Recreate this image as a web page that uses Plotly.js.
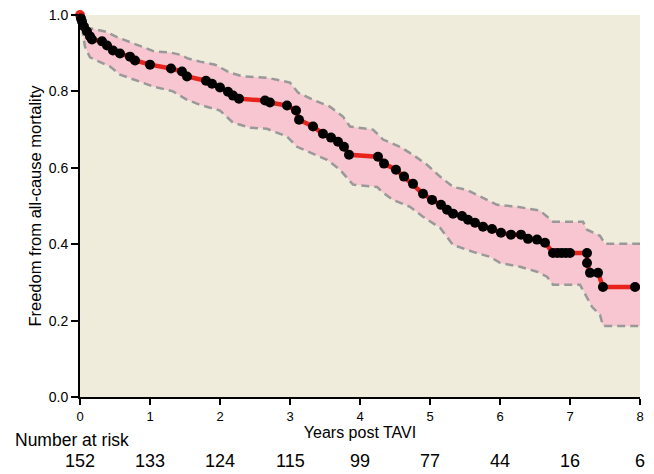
<!DOCTYPE html>
<html>
<head>
<meta charset="utf-8">
<script src="https://cdn.plot.ly/plotly-3.0.1.min.js"></script>
<style>html,body{margin:0;padding:0;background:#fff;}#chart{width:654px;height:474px;}</style>
</head>
<body>
<div id="chart"></div>
<script>
// Kaplan-Meier estimate (years, survival)
var kmTime = [0, 0.014, 0.029, 0.057, 0.1, 0.143, 0.171, 0.314, 0.386, 0.471, 0.571, 0.714, 0.786, 1.0, 1.3, 1.457, 1.529, 1.8, 1.886, 2.0, 2.114, 2.186, 2.271, 2.643, 2.714, 2.957, 3.086, 3.129, 3.329, 3.471, 3.586, 3.686, 3.771, 3.843, 4.257, 4.343, 4.514, 4.629, 4.757, 4.9, 5.029, 5.157, 5.243, 5.329, 5.457, 5.543, 5.643, 5.757, 5.886, 6.014, 6.157, 6.3, 6.4, 6.529, 6.643, 6.757, 6.82, 6.88, 6.94, 7.0, 7.243, 7.243, 7.286, 7.4, 7.471, 7.929, 8.03];
var kmSurv = [1.0, 0.991, 0.983, 0.970, 0.957, 0.944, 0.936, 0.931, 0.920, 0.907, 0.899, 0.891, 0.881, 0.870, 0.860, 0.852, 0.839, 0.828, 0.820, 0.810, 0.799, 0.789, 0.781, 0.776, 0.771, 0.763, 0.750, 0.726, 0.708, 0.689, 0.679, 0.668, 0.655, 0.634, 0.629, 0.611, 0.595, 0.577, 0.558, 0.532, 0.516, 0.503, 0.490, 0.480, 0.474, 0.464, 0.456, 0.446, 0.440, 0.430, 0.425, 0.425, 0.414, 0.412, 0.404, 0.377, 0.377, 0.377, 0.377, 0.377, 0.377, 0.351, 0.325, 0.325, 0.288, 0.288, 0.288];

// Upper confidence limit
var upperTime = [0, 0.029, 0.1, 0.214, 0.357, 0.543, 0.714, 0.886, 1.071, 1.286, 1.429, 1.543, 1.714, 1.929, 2.143, 2.329, 2.671, 3.0, 3.114, 3.329, 3.571, 3.757, 3.857, 4.186, 4.329, 4.571, 4.757, 4.957, 5.143, 5.329, 5.529, 5.814, 5.957, 6.243, 6.571, 6.757, 7.186, 7.243, 7.429, 7.5, 8.0];
var upperSurv = [1.0, 0.983, 0.967, 0.962, 0.957, 0.941, 0.930, 0.917, 0.904, 0.902, 0.896, 0.886, 0.878, 0.870, 0.849, 0.839, 0.836, 0.823, 0.797, 0.778, 0.760, 0.734, 0.708, 0.700, 0.674, 0.655, 0.634, 0.608, 0.577, 0.550, 0.542, 0.516, 0.503, 0.498, 0.488, 0.459, 0.459, 0.438, 0.422, 0.401, 0.401];

// Lower confidence limit
var lowerTime = [0, 0.029, 0.071, 0.143, 0.286, 0.429, 0.571, 0.757, 1.043, 1.329, 1.529, 1.714, 2.0, 2.186, 2.429, 2.671, 2.957, 3.1, 3.286, 3.529, 3.714, 3.814, 3.9, 4.243, 4.329, 4.471, 4.714, 4.9, 5.143, 5.329, 5.614, 5.857, 6.0, 6.286, 6.529, 6.671, 6.757, 7.143, 7.243, 7.314, 7.429, 7.471, 8.0];
var lowerSurv = [1.0, 0.962, 0.917, 0.889, 0.878, 0.865, 0.844, 0.831, 0.813, 0.800, 0.778, 0.765, 0.750, 0.718, 0.705, 0.702, 0.682, 0.655, 0.640, 0.621, 0.595, 0.574, 0.556, 0.550, 0.535, 0.516, 0.498, 0.472, 0.443, 0.398, 0.380, 0.367, 0.351, 0.341, 0.328, 0.315, 0.294, 0.294, 0.262, 0.236, 0.215, 0.186, 0.186];

// Number at risk table
var riskYears = [0, 1, 2, 3, 4, 5, 6, 7, 8];
var riskCounts = [152, 133, 124, 115, 99, 77, 44, 16, 6];
var yTickVals = [0, 0.2, 0.4, 0.6, 0.8, 1.0];
var xTickVals = [0, 1, 2, 3, 4, 5, 6, 7, 8];

var FONT = '"Liberation Sans", Arial, sans-serif';

var bandX = upperTime.concat(lowerTime.slice().reverse());
var bandY = upperSurv.concat(lowerSurv.slice().reverse());

var markerColors = kmTime.map(function (t, i) { return i === 0 ? '#e8231b' : '#000000'; });

var traces = [
  {x: bandX, y: bandY, type: 'scatter', mode: 'lines', fill: 'toself',
   fillcolor: '#f7c6d0', line: {width: 0}, hoverinfo: 'skip', showlegend: false},
  {x: upperTime, y: upperSurv, type: 'scatter', mode: 'lines',
   line: {color: '#999999', width: 2.5, dash: '8px,5px'}, showlegend: false, hoverinfo: 'skip'},
  {x: lowerTime, y: lowerSurv, type: 'scatter', mode: 'lines',
   line: {color: '#999999', width: 2.5, dash: '8px,5px'}, showlegend: false, hoverinfo: 'skip'},
  {x: kmTime, y: kmSurv, type: 'scatter', mode: 'lines+markers', cliponaxis: false,
   line: {color: '#e8231b', width: 4.5},
   marker: {color: markerColors, size: 10, line: {width: 0}}, showlegend: false}
];

var annotations = [
  {xref: 'paper', yref: 'paper', x: (13 - 80) / 560, y: (397 - 440) / 382,
   xanchor: 'left', yanchor: 'middle', showarrow: false, text: 'Number at risk',
   font: {family: FONT, size: 17.5, color: '#000'}}
];
riskYears.forEach(function (yr, i) {
  annotations.push({xref: 'x', yref: 'paper', x: yr, y: (397 - 461) / 382,
    xanchor: 'center', yanchor: 'middle', showarrow: false, text: String(riskCounts[i]),
    font: {family: FONT, size: 18, color: '#000'}});
});

var layout = {
  width: 654, height: 474,
  margin: {l: 80, r: 14, t: 15, b: 77},
  paper_bgcolor: '#ffffff',
  plot_bgcolor: '#f0ecdc',
  showlegend: false,
  hovermode: false,
  xaxis: {
    range: [0, 8], tickvals: xTickVals, ticktext: xTickVals.map(String),
    ticks: 'outside', ticklen: 6, tickwidth: 2, tickcolor: '#000',
    showline: true, linewidth: 2, linecolor: '#000',
    showgrid: false, zeroline: false, automargin: false,
    tickfont: {family: FONT, size: 13, color: '#000'},
    title: {text: 'Years post TAVI', font: {family: FONT, size: 16, color: '#000'}, standoff: 0}
  },
  yaxis: {
    range: [0, 1], tickvals: yTickVals, tickformat: '.1f',
    ticks: 'outside', ticklen: 7, tickwidth: 2, tickcolor: '#000',
    showline: true, linewidth: 2, linecolor: '#000',
    showgrid: false, zeroline: false, automargin: false,
    tickfont: {family: FONT, size: 14, color: '#000'},
    title: {text: 'Freedom from all-cause mortality', font: {family: FONT, size: 16.5, color: '#000'}, standoff: 3}
  },
  annotations: annotations
};

Plotly.newPlot('chart', traces, layout, {staticPlot: true, displayModeBar: false});
</script>
</body>
</html>
